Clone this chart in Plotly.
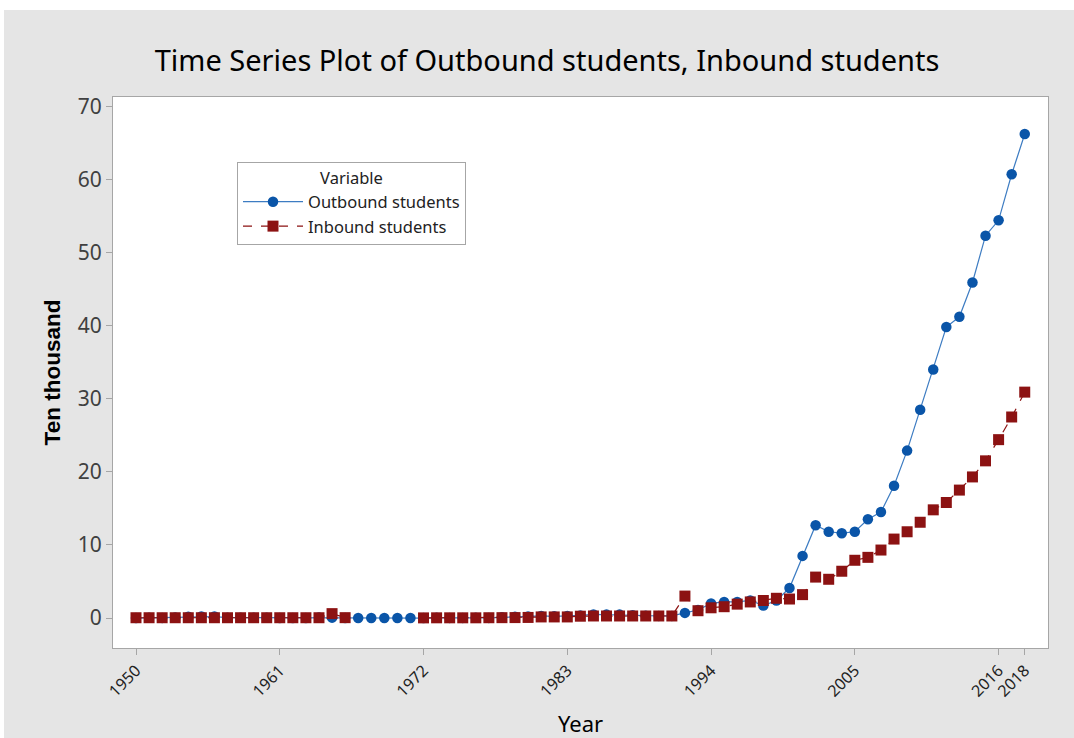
import plotly.graph_objects as go

# Academic exchange of students, in units of ten thousand people
years = list(range(1950, 2019))

outbound = [
    0.00, 0.04, 0.02, 0.07, 0.17, 0.20, 0.20, 0.05, 0.04, 0.05,   # 1950-1959
    0.05, 0.01, 0.01, 0.00, 0.06, 0.05, 0.00, 0.00, 0.00, 0.00,   # 1960-1969
    0.00, 0.00, 0.00, 0.03, 0.02, 0.02, 0.03, 0.02, 0.09, 0.18,   # 1970-1979
    0.21, 0.29, 0.23, 0.27, 0.35, 0.49, 0.47, 0.47, 0.38, 0.32,   # 1980-1989
    0.29, 0.29, 0.70, 1.10, 2.00, 2.20, 2.20, 2.40, 1.70, 2.40,   # 1990-1999
    4.10, 8.50, 12.7, 11.8, 11.6, 11.8, 13.5, 14.5, 18.1, 22.9,   # 2000-2009
    28.5, 34.0, 39.8, 41.2, 45.9, 52.3, 54.4, 60.7, 66.2,         # 2010-2018
]

inbound = [
    0.04, 0.04, 0.04, 0.04, 0.04, 0.04, 0.04, 0.04, 0.04, 0.04,   # 1950-1959
    0.04, 0.04, 0.04, 0.04, 0.04, 0.60, 0.05, None, None, None,   # 1960-1969
    None, None, 0.02, 0.03, 0.03, 0.03, 0.03, 0.04, 0.05, 0.06,   # 1970-1979
    0.08, 0.15, 0.15, 0.15, 0.25, 0.28, 0.28, 0.28, 0.28, 0.28,   # 1980-1989
    0.28, 0.28, 3.00, 1.00, 1.40, 1.55, 1.90, 2.20, 2.40, 2.70,   # 1990-1999
    2.60, 3.20, 5.60, 5.30, 6.40, 7.90, 8.30, 9.30, 10.8, 11.8,   # 2000-2009
    13.1, 14.8, 15.8, 17.5, 19.3, 21.5, 24.4, 27.5, 30.9,         # 2010-2018
]

x_ticks = [1950, 1961, 1972, 1983, 1994, 2005, 2016, 2018]
y_ticks = [0, 10, 20, 30, 40, 50, 60, 70]

BLUE = "#0a55a8"
BLUE_LINE = "#3d7cc2"
RED = "#8c1212"
FRAME = "#a6a6a6"
BG = "#e5e5e5"

fig = go.Figure()

fig.add_trace(go.Scatter(
    x=years, y=outbound, name="Outbound students",
    mode="lines+markers",
    line=dict(color=BLUE_LINE, width=1.2),
    marker=dict(symbol="circle", size=10.5, color=BLUE),
))

fig.add_trace(go.Scatter(
    x=years, y=inbound, name="Inbound students",
    mode="lines+markers", connectgaps=False,
    line=dict(color=RED, width=1.2, dash="dash"),
    marker=dict(symbol="square", size=11, color=RED),
))

# plot area: 113..1048 px horizontally, 97..648 px vertically
L, R, T, B = 113, 26, 97, 90
W, H = 1074, 738
pw, ph = W - L - R, H - T - B

def px_x(p):
    return (p - L) / pw

def px_y(p):
    return 1 - (p - T) / ph

# white strip along the top and left edge of the grey canvas
shapes = [
    dict(type="rect", xref="paper", yref="paper",
         x0=px_x(0), x1=px_x(W), y0=px_y(10), y1=px_y(0),
         fillcolor="white", line=dict(width=0), layer="below"),
    dict(type="rect", xref="paper", yref="paper",
         x0=px_x(0), x1=px_x(4), y0=px_y(H), y1=px_y(0),
         fillcolor="white", line=dict(width=0), layer="below"),
]

fig.update_layout(
    width=W, height=H,
    margin=dict(l=L, r=R, t=T, b=B, autoexpand=False),
    paper_bgcolor=BG,
    plot_bgcolor="white",
    shapes=shapes,
    font=dict(family="Noto Sans", color="#333333"),
    title=dict(
        text="Time Series Plot of Outbound students, Inbound students",
        x=(547 / W), xanchor="center", y=1 - 61 / H, yanchor="middle",
        font=dict(family="Noto Sans", size=29, color="black"),
    ),
    showlegend=True,
    legend=dict(
        x=px_x(237), y=px_y(162), xanchor="left", yanchor="top",
        bgcolor="white", bordercolor=FRAME, borderwidth=1,
        font=dict(family="Noto Sans", size=16.5, color="#222222"),
        title=dict(text="Variable", side="top center",
                   font=dict(family="Noto Sans", size=16.5, color="#222222")),
        itemwidth=60, tracegroupgap=0,
    ),
    xaxis=dict(
        range=[1948.24, 2019.78], automargin=False,
        tickmode="array", tickvals=x_ticks, ticktext=[str(t) for t in x_ticks],
        tickangle=-45, ticks="outside", ticklen=6, tickcolor=FRAME,
        tickfont=dict(family="Noto Sans", size=16, color="#222222"),
        showgrid=False, zeroline=False,
        showline=True, linecolor=FRAME, linewidth=1, mirror=True,
        title=dict(text="Year", standoff=40,
                   font=dict(family="Noto Sans", size=22, color="black")),
    ),
    yaxis=dict(
        range=[-4.1, 71.27], automargin=False,
        tickmode="array", tickvals=y_ticks,
        ticks="outside", ticklen=6, tickcolor=FRAME,
        tickfont=dict(family="Noto Sans", size=21, color="#404040"),
        showgrid=False, zeroline=False,
        showline=True, linecolor=FRAME, linewidth=1, mirror=True,
        title=dict(text="<b>Ten thousand</b>", standoff=10,
                   font=dict(family="Liberation Sans", size=22.5, color="black")),
    ),
)

fig.write_html("out.html")
